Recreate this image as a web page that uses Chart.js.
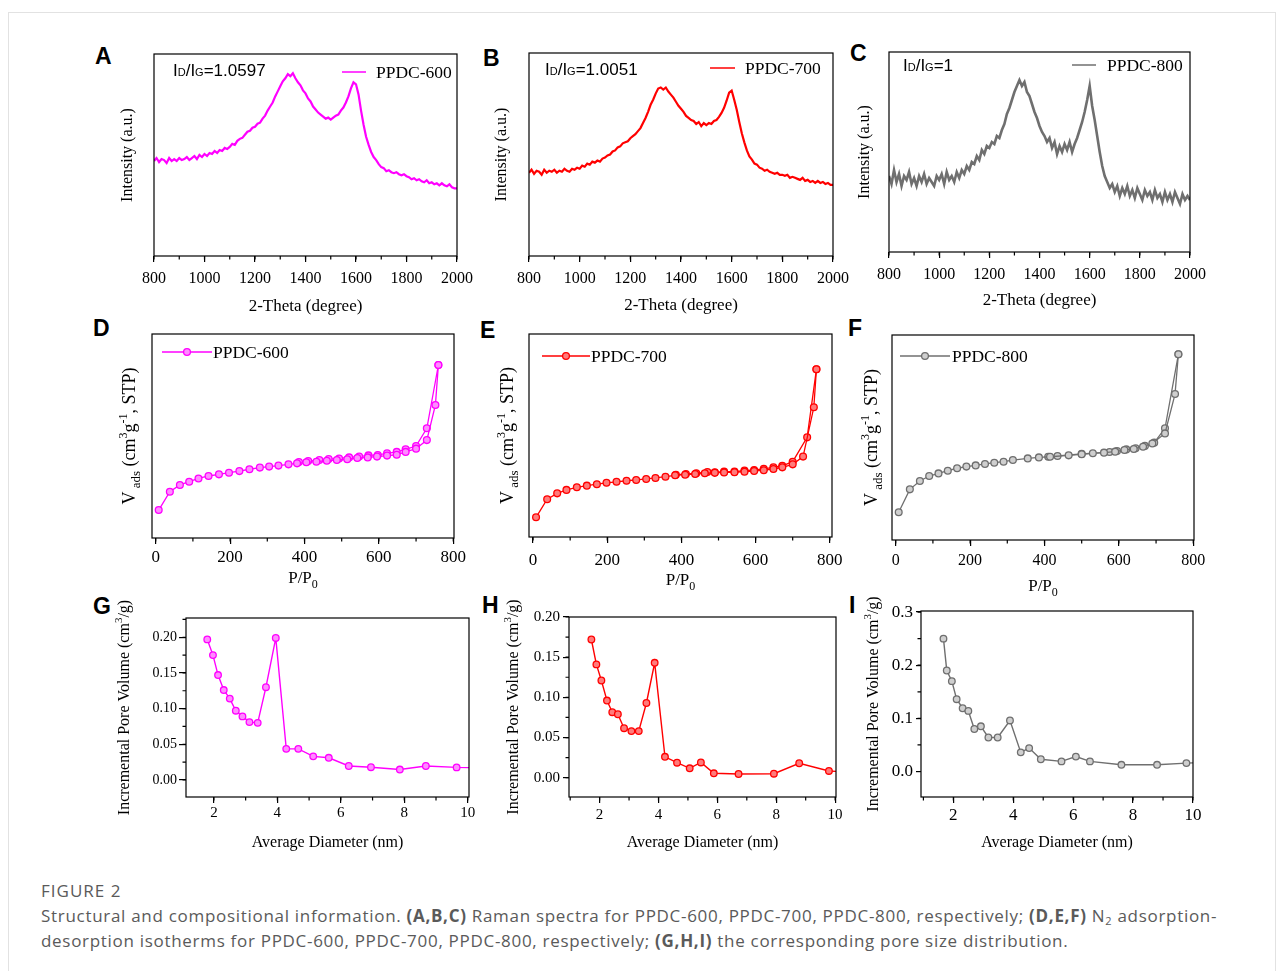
<!DOCTYPE html>
<html>
<head>
<meta charset="utf-8">
<script src="https://cdn.jsdelivr.net/npm/chart.js@4.4.1/dist/chart.umd.min.js"></script>
<style>
body{margin:0;background:#fff;}
#page{position:relative;width:1282px;height:971px;overflow:hidden;background:#fff;}
#page canvas{position:absolute;}
#frame{position:absolute;left:8px;top:12px;width:1266px;height:990px;border:1px solid #e2e2e2;}
.lbl{position:absolute;font:bold 23px 'Liberation Sans',Arial,sans-serif;line-height:1;color:#000;}
.cap{position:absolute;left:41px;font-family:'Open Sans',sans-serif;color:#5a5a5a;white-space:nowrap;}
.cap sub{font-size:11px;vertical-align:-3px;line-height:0;}
</style>
</head>
<body>
<div id="page">
<div id="frame"></div>
<div class="lbl" style="left:95px;top:45px">A</div>
<div class="lbl" style="left:483px;top:47px">B</div>
<div class="lbl" style="left:850px;top:42px">C</div>
<div class="lbl" style="left:93px;top:317px">D</div>
<div class="lbl" style="left:480px;top:319px">E</div>
<div class="lbl" style="left:848px;top:317px">F</div>
<div class="lbl" style="left:93px;top:595px">G</div>
<div class="lbl" style="left:482px;top:594px">H</div>
<div class="lbl" style="left:849px;top:594px">I</div>
<div class="cap" style="top:879px;font-size:17px;letter-spacing:1px;">FIGURE 2</div>
<div class="cap" style="top:903px;font-size:17px;letter-spacing:0.7px;line-height:25px;">Structural and compositional information. <b>(A,B,C)</b> Raman spectra for PPDC-600, PPDC-700, PPDC-800, respectively; <b>(D,E,F)</b> N<sub>2</sub> adsorption-<br>desorption isotherms for PPDC-600, PPDC-700, PPDC-800, respectively; <b>(G,H,I)</b> the corresponding pore size distribution.</div>
</div>
<script>
// Raman shift axis values (cm-1)
const ramanShift = [
  800,810,820,830,840,850,860,870,880,890,
  900,910,920,930,940,950,960,970,980,990,
  1000,1010,1020,1030,1040,1050,1060,1070,1080,1090,
  1100,1110,1120,1130,1140,1150,1160,1170,1180,1190,
  1200,1210,1220,1230,1240,1250,1260,1270,1280,1290,
  1300,1310,1320,1330,1340,1350,1360,1370,1380,1390,
  1400,1410,1420,1430,1440,1450,1460,1470,1480,1490,
  1500,1510,1520,1530,1540,1550,1560,1570,1580,1590,
  1600,1610,1620,1630,1640,1650,1660,1670,1680,1690,
  1700,1710,1720,1730,1740,1750,1760,1770,1780,1790,
  1800,1810,1820,1830,1840,1850,1860,1870,1880,1890,
  1900,1910,1920,1930,1940,1950,1960,1970,1980,1990,
  2000
];
// intensities (a.u., 0-100 of plot height)
const ramanA = [
  47,48.5,46.5,48,47.5,46,48.5,47,48,47,
  48.5,47.5,48,49,47.5,48.5,49.5,48,50,49,
  50.5,49.5,51,50.5,52,51,52.5,52,53.5,53,
  54,55.5,55,57,58,58.5,60,61.5,62,63.5,
  64,65.5,66,68,69.5,72,74,76,79,81.5,
  84,86.5,88,90,89,90.5,88,86,84.5,82,
  80.5,78,76.5,74,72.5,71,70,69,68,68.5,
  67.5,68.5,69.5,70,72,73.5,76,79,83,86,
  85,80,72,65,59,55,51.5,49,47.5,45.5,
  44,43.5,42,42.5,41.5,41,41.5,40.5,40,40.5,
  39.5,39,38,38.5,37.5,38,37,36.5,37.5,36,
  36.5,35.5,36,35,36,35,34.5,35.5,34,33.5,
  33.5
];
const ramanB = [
  41,42.5,40.5,42,41.5,40,42.5,41,42,41.5,
  42.5,41,42,41.5,43,42,41.5,43,42.5,43.5,
  43,44.5,44,45.5,45,46.5,46,47,46.5,48,
  48.5,49.5,50,51.5,52,53.5,54,55.5,56,56.5,
  58,59,60,61.5,63,65.5,68,71,74.5,77,
  80,82.5,83,82,83,81,79.5,78,76,74,
  72.5,71,69,68,67,66.5,65,66,64,65.5,
  64.5,65.5,65,66.5,67,68.5,70.5,73,76.5,80.5,
  81.5,77,72,66,60.5,56,52,49,47.5,45.5,
  45,43.5,43,42,42.5,41.5,41,40.5,41,40,
  40,39.5,40,38.5,39,38.5,38,37.5,38.5,37,
  37.5,36.5,37,36,37,36,36.5,35.5,36,35,
  35
];
const ramanC = [
  38,34,41,35,39,33,38,36,40,34,
  37,33,38,35,39,34,37,35,33,38,
  36,39,34,40,36,38,35,40,37,41,
  39,43,41,45,44,48,46,51,49,53,
  52,55,54,58,57,61,64,69,72,76,
  80,83,86,83,85,80,78,74,70,67,
  63,60,58,55,57,52,55,49,53,50,
  54,51,55,50,54,57,61,65,70,76,
  83,73,66,58,50,43,38,35,32,34,
  30,33,28,32,29,33,28,31,27,32,
  29,26,31,28,30,26,31,27,29,25,
  30,26,29,25,30,27,24,29,26,28,
  26
];
const ramanTicks = [800,1000,1200,1400,1600,1800,2000];

// N2 isotherms: P/P0 and adsorbed volume (a.u.)
const isoA_adsX = [8,38,65,90,115,142,170,197,225,252,280,305,330,357,380,405,432,460,487,515,542,570,595,622,648,672,700,729,752,760];
const isoA_adsY = [13.7,22.7,26,27.6,29.2,30.4,31.2,32,32.8,33.7,34.5,35,35.5,36.1,36.6,37.1,37.4,37.9,38.2,38.6,39.2,39.5,39.9,40.4,40.8,42.2,43.8,48,65.2,84.8];
const isoA_desX = [760,729,700,672,648,622,597,572,547,520,493,465,440,410,385];
const isoA_desY = [84.8,53.8,45.1,43.5,42.2,41.5,40.7,40.5,39.9,39.5,39,38.7,38.2,37.7,37.2];

const isoB_adsX = [8,38,65,90,118,145,172,198,225,252,278,305,330,357,383,410,437,463,490,515,543,570,596,622,648,672,700,728,757,764];
const isoB_adsY = [9.7,18.6,21.5,23.2,24.5,25.3,26,26.7,27.2,27.7,28.1,28.6,29.1,29.7,30.4,30.7,31,31.4,31.6,31.8,31.9,32.2,32.5,32.9,33.5,34.3,35.8,39.6,63.9,82.6];
const isoB_desX = [764,739,700,672,648,622,596,570,543,515,490,470,440,412,385];
const isoB_desY = [82.6,49.1,37.1,35.1,34.3,33.6,33,32.7,32.2,32.2,31.9,32,31.4,31,30.7];

const isoC_adsX = [8,38,65,90,115,140,165,190,215,240,265,290,315,355,385,415,465,500,530,560,590,615,640,665,690,724,751,760];
const isoC_adsY = [13.5,24.7,28.8,31.2,32.5,33.8,35,35.8,36.4,37.1,37.7,38.2,39,39.8,40.3,40.6,41.3,41.8,42.3,42.6,43.1,43.9,44.4,45.5,47.1,52,71.2,90.6];
const isoC_desX = [760,724,695,670,645,620,595,575,500,435,410];
const isoC_desY = [90.6,54.5,47.5,45.9,44.7,44.2,43.4,42.9,42,41,40.6];
const isoTicks = [0,200,400,600,800];

// pore size distribution: diameter (nm) and incremental pore volume (cm3/g)
const poreA_d = [1.79,1.97,2.13,2.31,2.5,2.69,2.9,3.12,3.38,3.64,3.95,4.28,4.66,5.13,5.62,6.25,6.95,7.86,8.68,9.65,10.4];
const poreA_v = [0.197,0.175,0.147,0.126,0.114,0.097,0.089,0.081,0.080,0.130,0.199,0.0435,0.0435,0.033,0.031,0.0195,0.0178,0.0145,0.0195,0.0175,0.017];
const poreB_d = [1.72,1.89,2.06,2.25,2.43,2.62,2.83,3.08,3.33,3.59,3.87,4.22,4.63,5.06,5.44,5.88,6.72,7.92,8.78,9.79,10.4];
const poreB_v = [0.172,0.141,0.121,0.096,0.0815,0.079,0.0616,0.058,0.058,0.093,0.143,0.026,0.0187,0.0117,0.019,0.0055,0.0046,0.005,0.018,0.0084,0.007];
const poreC_d = [1.67,1.78,1.95,2.11,2.31,2.5,2.7,2.92,3.17,3.48,3.89,4.25,4.53,4.92,5.61,6.09,6.56,7.61,8.8,9.78,10.4];
const poreC_v = [0.25,0.19,0.17,0.136,0.119,0.114,0.08,0.085,0.064,0.064,0.096,0.036,0.044,0.023,0.019,0.028,0.019,0.0126,0.0126,0.0158,0.017];
const poreXTicks = [2,4,6,8,10];
const poreYTicksAB = [0,0.05,0.10,0.15,0.20];
const poreYTicksC = [0,0.1,0.2,0.3];

const labels = ['PPDC-600','PPDC-700','PPDC-800'];
const ratios = ['1.0597','1.0051','1'];

const SERIF = "'Liberation Serif','Times New Roman',serif";
const SANS = "'Liberation Sans',Arial,sans-serif";

function zip(xs, ys){ return xs.map((x,i) => ({x:x, y:ys[i]})); }
function fontOf(s){ return (s.b ? 'bold ' : '') + s.s + 'px ' + (s.f || SERIF); }

// draw text made of pieces (sub/superscripts)
function rich(ctx, segs, x, y, align){
  let w = 0;
  const ws = segs.map(s => { ctx.font = fontOf(s); const m = ctx.measureText(s.t).width; w += m; return m; });
  let cx = align === 'center' ? x - w/2 : x;
  segs.forEach((s,i) => { ctx.font = fontOf(s); ctx.fillText(s.t, cx, y + (s.dy || 0)); cx += ws[i]; });
}

const decor = {
  id:'decor',
  afterDraw(chart, args, o){
    const ctx = chart.ctx, a = chart.chartArea;
    const xs = chart.scales.x, ys = chart.scales.y;
    ctx.save();
    ctx.strokeStyle = '#000'; ctx.fillStyle = '#000'; ctx.lineWidth = 1.2;
    ctx.strokeRect(a.left, a.top, a.right - a.left, a.bottom - a.top);
    // minor ticks
    ctx.beginPath();
    if (o.minorX){
      for (let k = Math.ceil(xs.min / o.minorX); k * o.minorX <= xs.max + 1e-9; k++){
        const p = xs.getPixelForValue(k * o.minorX);
        ctx.moveTo(p, a.bottom); ctx.lineTo(p, a.bottom + 3.5);
      }
    }
    if (o.minorY){
      for (let k = Math.ceil(ys.min / o.minorY); k * o.minorY <= ys.max + 1e-9; k++){
        const p = ys.getPixelForValue(k * o.minorY);
        ctx.moveTo(a.left, p); ctx.lineTo(a.left - 3.5, p);
      }
    }
    ctx.stroke();
    ctx.textBaseline = 'alphabetic'; ctx.textAlign = 'left';
    // axis titles
    if (o.xTitle){
      const s = o.xTitle[0].s;
      rich(ctx, o.xTitle, (a.left + a.right)/2, a.bottom + o.xTitleDy + s*0.32, 'center');
    }
    if (o.yTitle){
      const s = o.yTitle[0].s;
      ctx.save();
      ctx.translate(a.left + o.yTitleDx - s*0.32, (a.top + a.bottom)/2);
      ctx.rotate(-Math.PI/2);
      rich(ctx, o.yTitle, 0, s*0.32, 'center');
      ctx.restore();
    }
    if (o.ratio){
      const r = o.ratio;
      rich(ctx, [
        {t:'I', s:17, f:SANS}, {t:'D', s:11, f:SANS}, {t:'/I', s:17, f:SANS},
        {t:'G', s:11, f:SANS}, {t:'=' + r.text, s:17, f:SANS}
      ], a.left + r.dx, a.top + r.dy + 6, 'left');
    }
    if (o.legend){
      const L = o.legend, ds = chart.data.datasets[0];
      const x0 = a.left + L.dx, y0 = a.top + L.dy;
      ctx.strokeStyle = ds.borderColor; ctx.lineWidth = 1.5;
      ctx.beginPath(); ctx.moveTo(x0, y0); ctx.lineTo(x0 + L.len, y0); ctx.stroke();
      if (L.marker){
        ctx.beginPath(); ctx.arc(x0 + L.len/2, y0, ds.pointRadius, 0, Math.PI*2);
        ctx.fillStyle = ds.pointBackgroundColor; ctx.fill();
        ctx.lineWidth = ds.pointBorderWidth; ctx.stroke();
      }
      ctx.fillStyle = '#000';
      ctx.font = L.size + 'px ' + SERIF;
      ctx.fillText(ds.label, x0 + L.len + L.gap, y0 + L.size*0.34);
    }
    ctx.restore();
  }
};
Chart.register(decor);

const LP = 80, TP = 32, RP = 30, BP = 70;
const page = document.getElementById('page');

function makeChart(p){
  const [l, t, r, b] = p.rect;
  const cv = document.createElement('canvas');
  cv.width = r - l + LP + RP; cv.height = b - t + TP + BP;
  cv.style.left = (l - LP) + 'px'; cv.style.top = (t - TP) + 'px';
  page.appendChild(cv);
  const yTicks = p.y.ticks;
  new Chart(cv, {
    type:'scatter',
    data:{datasets:p.datasets},
    options:{
      responsive:false, animation:false,
      layout:{padding:{top:TP, right:RP, left:0, bottom:0}},
      plugins:{legend:{display:false}, tooltip:{enabled:false}, decor:p.decor},
      scales:{
        x:{
          type:'linear', min:p.x.min, max:p.x.max,
          afterFit:s => { s.height = BP; },
          afterBuildTicks:s => { s.ticks = p.x.ticks.map(v => ({value:v})); },
          border:{display:false},
          grid:{display:true, drawOnChartArea:false, tickLength:6, color:'#000', lineWidth:1.2},
          ticks:{autoSkip:false, maxRotation:0,
                 color:'#000', padding:p.x.pad, font:{family:SERIF, size:p.x.size},
                 callback:v => String(v)}
        },
        y:{
          type:'linear', min:p.y.min, max:p.y.max,
          afterFit:s => { s.width = LP; },
          afterBuildTicks:s => { if (yTicks) s.ticks = yTicks.map(v => ({value:v})); },
          border:{display:false},
          grid:{display:!!yTicks, drawOnChartArea:false, tickLength:p.y.tick || 6, color:'#000', lineWidth:1.2},
          ticks:{display:!!yTicks, autoSkip:false,
                 color:'#000', padding:p.y.pad || 2, font:{family:SERIF, size:p.y.size || 15},
                 callback:v => v.toFixed(p.y.dec || 0)}
        }
      }
    }
  });
}

const colors = [
  {line:'#ff00ff', fill:'#ff8cff'},
  {line:'#ff0000', fill:'#ff7b7b'},
  {line:'#6f6f6f', fill:'#cfcfcf'}
];
const ramanSets = [ramanA, ramanB, ramanC];
const ramanRects = [[154,54,457,256],[529,53,833,256],[889,52,1190,252]];
const ramanYdx = [-22,-23,-20];
const ramanXdy = [50,49,48];
const ramanRatio = [{dx:19,dy:16},{dx:16,dy:16},{dx:14,dy:13}];
const ramanLeg = [{dx:188,dy:18,len:24,gap:10},{dx:181,dy:15,len:25,gap:10},{dx:183,dy:13,len:24,gap:11}];

ramanSets.forEach((vals, i) => {
  makeChart({
    rect:ramanRects[i],
    datasets:[{label:labels[i], data:zip(ramanShift, vals), showLine:true, pointRadius:0,
               borderColor:colors[i].line, borderWidth:i === 2 ? 2.6 : 2.2}],
    x:{min:800, max:2000, ticks:ramanTicks, pad:7, size:16},
    y:{min:0, max:100},
    decor:{
      minorX:100,
      xTitle:[{t:'2-Theta (degree)', s:17}], xTitleDy:ramanXdy[i],
      yTitle:[{t:'Intensity (a.u.)', s:16}], yTitleDx:ramanYdx[i],
      ratio:{text:ratios[i], dx:ramanRatio[i].dx, dy:ramanRatio[i].dy},
      legend:Object.assign({size:17.5}, ramanLeg[i])
    }
  });
});

const isoSets = [
  [isoA_adsX, isoA_adsY, isoA_desX, isoA_desY],
  [isoB_adsX, isoB_adsY, isoB_desX, isoB_desY],
  [isoC_adsX, isoC_adsY, isoC_desX, isoC_desY]
];
const isoRects = [[152,334,454,538],[529,334,832,537],[892,335,1194,540]];
const isoX = [{min:-10, max:802, pad:3, size:17},{min:-11, max:806, pad:7, size:17},{min:-10, max:802, pad:5, size:16}];
const isoYdx = [-17,-16,-15];
const isoXdy = [40,43,46];
const isoLeg = [{dx:10,dy:18,len:50,gap:1},{dx:13,dy:22,len:48,gap:1},{dx:8,dy:21,len:50,gap:2}];

isoSets.forEach((s, i) => {
  const base = {showLine:true, borderColor:colors[i].line, borderWidth:1.3,
                pointRadius:3.4, pointBackgroundColor:colors[i].fill,
                pointBorderColor:colors[i].line, pointBorderWidth:1.3};
  makeChart({
    rect:isoRects[i],
    datasets:[
      Object.assign({label:labels[i], data:zip(s[0], s[1])}, base),
      Object.assign({label:labels[i] + ' desorption', data:zip(s[2], s[3])}, base)
    ],
    x:Object.assign({ticks:isoTicks}, isoX[i]),
    y:{min:0, max:100},
    decor:{
      minorX:100,
      xTitle:[{t:'P/P', s:17}, {t:'0', s:12, dy:5}], xTitleDy:isoXdy[i],
      yTitle:[{t:'V', s:18}, {t:' ads', s:13, dy:5}, {t:' (cm', s:18}, {t:'3', s:12, dy:-8},
              {t:'g', s:18}, {t:'-1', s:12, dy:-8}, {t:', STP)', s:18}],
      yTitleDx:isoYdx[i],
      legend:Object.assign({size:17.5, marker:true}, isoLeg[i])
    }
  });
});

const poreSets = [[poreA_d, poreA_v],[poreB_d, poreB_v],[poreC_d, poreC_v]];
const poreRects = [[186,618,469,797],[569,617,836,797],[921,611,1193,797]];
const poreX = [{min:1.12, max:10.04, pad:1, size:15},{min:0.96, max:10.03, pad:3, size:15},{min:0.92, max:10, pad:2, size:17}];
const poreY = [
  {min:-0.024, max:0.227, ticks:poreYTicksAB, dec:2, size:14, tick:7, pad:2},
  {min:-0.024, max:0.2, ticks:poreYTicksAB, dec:2, size:15, tick:6, pad:3},
  {min:-0.048, max:0.302, ticks:poreYTicksC, dec:1, size:17, tick:5, pad:3}
];
const poreMinorY = [0.025, 0.025, 0.05];
const poreYdx = [-57,-51,-43];

poreSets.forEach((s, i) => {
  makeChart({
    rect:poreRects[i],
    datasets:[{label:labels[i], data:zip(s[0], s[1]), showLine:true,
               borderColor:colors[i].line, borderWidth:1.4,
               pointRadius:3.3, pointBackgroundColor:colors[i].fill,
               pointBorderColor:colors[i].line, pointBorderWidth:1.3}],
    x:Object.assign({ticks:poreXTicks}, poreX[i]),
    y:poreY[i],
    decor:{
      minorX:1, minorY:poreMinorY[i],
      xTitle:[{t:'Average Diameter (nm)', s:16}], xTitleDy:45,
      yTitle:[{t:'Incremental Pore Volume (cm', s:16}, {t:'3', s:11, dy:-7}, {t:'/g)', s:16}],
      yTitleDx:poreYdx[i]
    }
  });
});
</script>
</body>
</html>
